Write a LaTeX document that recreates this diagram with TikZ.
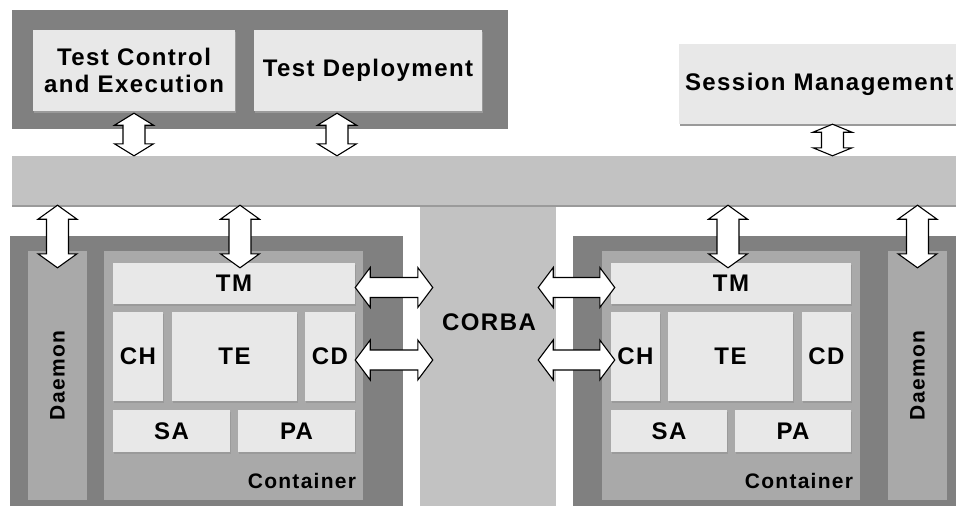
\documentclass[tikz,border=0pt]{standalone}
\usepackage{fontspec}
\setmainfont{Liberation Sans}[LetterSpace=6]
\usepackage{tikz}
\usetikzlibrary{positioning,calc,shadows}
\definecolor{FrameDark}{HTML}{808080}
\definecolor{ContGray}{HTML}{A9A9A9}
\definecolor{BusGray}{HTML}{C2C2C2}
\definecolor{BoxLight}{HTML}{E8E8E8}
\definecolor{EdgeGray}{HTML}{9A9A9A}

\begin{document}
\begin{tikzpicture}[x=1pt,y=-1pt,
    every node/.style={font=\fontsize{24}{27}\selectfont\bfseries},
    small/.style={font=\fontsize{21}{24}\selectfont\bfseries},
    frame/.style={fill=FrameDark, inner sep=0pt},
    cont/.style={fill=ContGray, inner sep=0pt},
    bus/.style={fill=BusGray, inner sep=0pt},
    box/.style={fill=BoxLight, inner sep=0pt, align=center,
      drop shadow={shadow xshift=1pt, shadow yshift=-1.5pt, fill=EdgeGray, opacity=1}},
    varr/.style={fill=white, draw=black, line width=1.1pt,
      to path={let \p1=(\tikztostart), \p2=(\tikztotarget) in
        (\x1,\y1) -- (\x1+19.5pt,\y1-#1) -- (\x1+11pt,\y1-#1)
        -- (\x1+11pt,\y2+#1) -- (\x1+19.5pt,\y2+#1) -- (\x1,\y2)
        -- (\x1-19.5pt,\y2+#1) -- (\x1-11pt,\y2+#1)
        -- (\x1-11pt,\y1-#1) -- (\x1-19.5pt,\y1-#1) -- cycle}},
    varr/.default=14pt,
    harr/.style={fill=white, draw=black, line width=1.1pt,
      to path={let \p1=(\tikztostart), \p2=(\tikztotarget) in
        (\x1,\y1) -- (\x1+15pt,\y1+20pt) -- (\x1+15pt,\y1+10pt)
        -- (\x2-15pt,\y1+10pt) -- (\x2-15pt,\y1+20pt) -- (\x2,\y1)
        -- (\x2-15pt,\y1-20pt) -- (\x2-15pt,\y1-10pt)
        -- (\x1+15pt,\y1-10pt) -- (\x1+15pt,\y1-20pt) -- cycle}}]
  \clip (0,0) rectangle (956,506);

  % test tools on top
  \node[frame, minimum width=496pt, minimum height=119pt] (testgrp) at (260,69.5) {};
  \node[box, minimum width=202pt, minimum height=81pt] (tce) at (134,70.5)
    {Test Control\\and Execution};
  \node[box, minimum width=228pt, minimum height=81pt] (tdep) at (368,70.5)
    {Test Deployment};
  \node[box, text width=289pt, align=left, inner xsep=6pt, minimum height=80pt]
    (sesmgmt) at (829.5,84) {Session Management};

  % corba bus
  \node[bus, minimum width=136pt, minimum height=315pt] (corba) at (488,362.5) {};
  \node[bus, minimum width=988pt, minimum height=49pt,
    drop shadow={shadow xshift=0pt, shadow yshift=-1.5pt, fill=EdgeGray, opacity=1}]
    (bus) at (506,180.5) {};
  \node (corbalbl) at (489,322) {CORBA};

  % left host
  \node[frame, minimum width=393pt, minimum height=284pt] (lhost) at (206.5,378) {};
  \node[cont, small, rotate=90, minimum width=249pt, minimum height=59pt] (ldaemon)
    at (57.5,375.5) {Daemon};
  \node[cont, minimum width=259pt, minimum height=249pt,
    label={[small, anchor=south east, xshift=-7pt, yshift=11pt, inner sep=0pt]south east:Container}]
    (lcont) at (233.5,375.5) {};
  \node[box, minimum width=242pt, minimum height=41pt] (ltm) at (234,283.5) {TM};
  \node[box, minimum width=50pt, minimum height=89pt] (lch) at (138,356.5) {CH};
  \node[box, minimum width=125pt, minimum height=89pt] (lte) at (234.5,356.5) {TE};
  \node[box, minimum width=50pt, minimum height=89pt] (lcd) at (330,356.5) {CD};
  \node[box, minimum width=117pt, minimum height=42pt] (lsa) at (171.5,431) {SA};
  \node[box, minimum width=117pt, minimum height=42pt] (lpa) at (296.5,431) {PA};

  % right host
  \node[frame, minimum width=427pt, minimum height=284pt] (rhost) at (786.5,378) {};
  \node[cont, minimum width=258pt, minimum height=249pt,
    label={[small, anchor=south east, xshift=-7pt, yshift=11pt, inner sep=0pt]south east:Container}]
    (rcont) at (731,375.5) {};
  \node[cont, small, rotate=90, minimum width=249pt, minimum height=59pt] (rdaemon)
    at (917.5,375.5) {Daemon};
  \node[box, minimum width=240pt, minimum height=41pt] (rtm) at (731,283.5) {TM};
  \node[box, minimum width=49pt, minimum height=89pt] (rch) at (635.5,356.5) {CH};
  \node[box, minimum width=125pt, minimum height=89pt] (rte) at (730.5,356.5) {TE};
  \node[box, minimum width=49pt, minimum height=89pt] (rcd) at (826.5,356.5) {CD};
  \node[box, minimum width=116pt, minimum height=42pt] (rsa) at (669,431) {SA};
  \node[box, minimum width=116pt, minimum height=42pt] (rpa) at (793,431) {PA};

  % arrows
  \coordinate (cl) at ([xshift=13pt]corba.west);
  \coordinate (cr) at ([xshift=-18pt]corba.east);
  \draw[varr=12pt] ([yshift=-2pt]tce.south) to (tce.south |- bus.north);
  \draw[varr=12pt] ([xshift=-31pt,yshift=-2pt]tdep.south) to ([xshift=-31pt]tdep.south |- bus.north);
  \draw[varr=8pt] ([xshift=3pt]sesmgmt.south) to ([xshift=3pt]sesmgmt.south |- bus.north);
  \draw[varr] (ldaemon.east |- bus.south) to ([yshift=-17pt]ldaemon.east);
  \draw[varr] ([xshift=6pt]ltm.north |- bus.south) to ([xshift=6pt,yshift=-5pt]ltm.north);
  \draw[varr] ([xshift=-3pt]rtm.north |- bus.south) to ([xshift=-3pt,yshift=-5pt]rtm.north);
  \draw[varr] (rdaemon.east |- bus.south) to ([yshift=-17pt]rdaemon.east);
  \draw[harr] ([yshift=-4pt]ltm.east) to (cl |- ltm.east);
  \draw[harr] ([yshift=-3.5pt]lcd.east) to (cl |- lcd.east);
  \draw[harr] ([yshift=-4pt]cr |- rtm.west) to ([xshift=4pt]rtm.west);
  \draw[harr] ([yshift=-3.5pt]cr |- rch.west) to ([xshift=4pt]rch.west);
\end{tikzpicture}
\end{document}
